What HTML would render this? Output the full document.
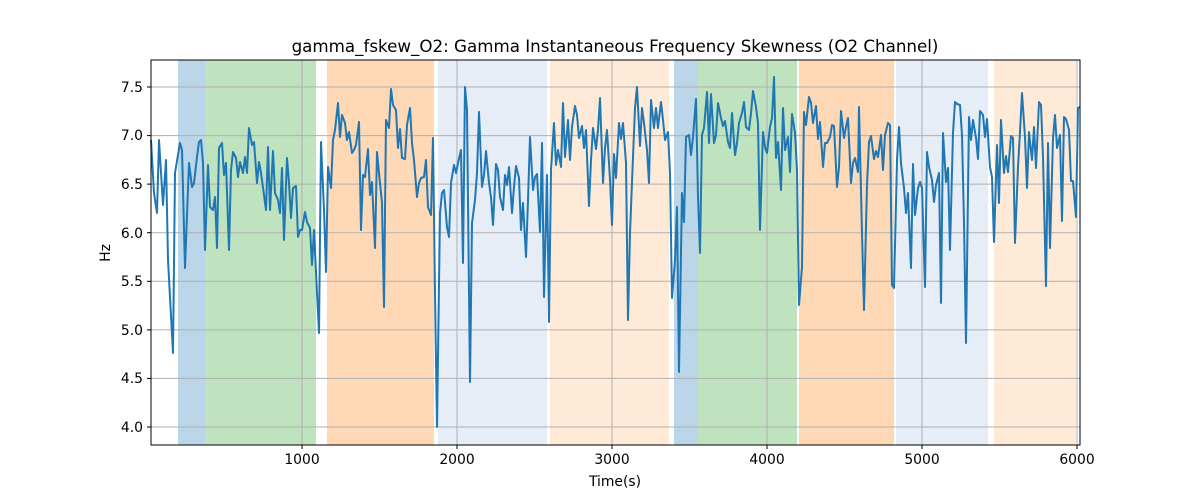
<!DOCTYPE html>
<html><head><meta charset="utf-8"><style>body{margin:0;background:#fff}svg{display:block}text{font-family:"DejaVu Sans","Liberation Sans",sans-serif;fill:#000}</style></head><body>
<svg width="1200" height="500" xmlns="http://www.w3.org/2000/svg">
<rect width="1200" height="500" fill="#fff"/>
<g stroke="none">
<rect x="178" y="60" width="27" height="385" fill="rgba(31,119,180,0.3)"/>
<rect x="205" y="60" width="111" height="385" fill="rgba(44,160,44,0.3)"/>
<rect x="327" y="60" width="107" height="385" fill="rgba(255,127,14,0.3)"/>
<rect x="438" y="60" width="109" height="385" fill="rgba(31,90,180,0.11)"/>
<rect x="550" y="60" width="119" height="385" fill="rgba(255,127,14,0.16)"/>
<rect x="674" y="60" width="24" height="385" fill="rgba(31,119,180,0.3)"/>
<rect x="698" y="60" width="99" height="385" fill="rgba(44,160,44,0.3)"/>
<rect x="799" y="60" width="95" height="385" fill="rgba(255,127,14,0.3)"/>
<rect x="896" y="60" width="92" height="385" fill="rgba(31,90,180,0.11)"/>
<rect x="994" y="60" width="82" height="385" fill="rgba(255,127,14,0.16)"/>
</g>
<g stroke="#b0b0b0" stroke-width="1">
<line x1="302" y1="60" x2="302" y2="445"/><line x1="457" y1="60" x2="457" y2="445"/><line x1="612" y1="60" x2="612" y2="445"/><line x1="767" y1="60" x2="767" y2="445"/><line x1="922" y1="60" x2="922" y2="445"/><line x1="1077" y1="60" x2="1077" y2="445"/>
<line x1="151" y1="427" x2="1080" y2="427"/><line x1="151" y1="378.4" x2="1080" y2="378.4"/><line x1="151" y1="329.9" x2="1080" y2="329.9"/><line x1="151" y1="281.3" x2="1080" y2="281.3"/><line x1="151" y1="232.7" x2="1080" y2="232.7"/><line x1="151" y1="184.1" x2="1080" y2="184.1"/><line x1="151" y1="135.6" x2="1080" y2="135.6"/><line x1="151" y1="87" x2="1080" y2="87"/>
</g>
<polyline fill="none" stroke="#1f77b4" stroke-width="2" stroke-linejoin="round" points="151,140 154,193 157,213 159,140 163,205 166,160 168,260 173,353 175,173 180,143 182,150 185,268 189,163 192,187 194,183 197,157 199,142 201,140 203,163 205,250 208,165 210,207 213,210 215,197 217,248 219,148 222,143 224,175 226,163 229,250 231,170 233,152 236,158 238,177 240,162 243,173 245,157 247,173 249,128 252,145 254,142 257,183 259,162 261,173 264,195 266,210 268,147 270,210 273,151 275,193 278,200 280,213 282,168 284,240 287,158 289,183 291,218 293,188 296,186 298,237 300,230 302,230 305,212 307,222 310,228 312,265 314,230 317,293 319,333 321,142 324,210 326,272 328,167 331,188 333,140 335,130 338,103 340,137 342,115 345,123 347,140 349,132 352,153 354,150 356,145 359,122 361,230 363,175 365,177 368,149 370,195 372,182 375,248 377,152 379,173 382,203 384,307 386,120 389,128 391,89 393,105 396,110 398,148 400,129 402,158 405,159 407,125 410,108 412,143 414,160 417,197 419,183 421,178 424,177 426,160 428,207 431,215 433,138 435,293 437,427 440,213 442,193 444,190 447,227 449,237 451,183 454,165 456,173 458,163 461,150 463,263 465,87 467,110 470,382 472,223 475,200 477,173 479,112 482,187 484,175 486,151 489,183 491,197 493,225 496,164 498,170 500,197 503,210 505,175 507,185 509,167 512,213 514,187 516,166 519,178 521,230 523,203 526,257 528,200 530,137 533,190 535,177 537,174 540,232 542,143 544,297 547,175 549,322 551,170 554,123 556,165 558,150 561,167 563,103 565,157 568,120 570,160 572,127 575,106 577,115 579,138 582,126 584,148 586,130 589,206 591,160 593,128 596,149 598,130 600,98 603,183 605,148 607,130 610,180 612,225 614,154 616,178 619,123 621,139 623,123 626,163 628,320 630,233 633,157 635,108 637,87 640,146 642,108 644,123 647,150 649,183 651,100 654,128 656,108 658,128 661,102 663,120 665,140 668,132 670,173 672,298 675,260 677,207 679,372 682,193 684,222 686,137 689,135 691,155 693,137 696,99 698,197 700,253 702,135 704,128 707,92 709,143 711,94 714,143 716,135 718,103 721,118 723,126 725,121 728,142 730,148 732,113 735,155 737,143 739,123 742,113 744,102 746,127 749,130 751,113 753,91 756,107 758,123 760,230 763,132 765,147 767,153 770,127 772,118 774,77 776,158 778,142 781,190 783,108 785,150 788,137 790,172 792,114 795,133 797,170 799,305 802,267 804,112 806,125 809,97 811,103 813,123 816,106 818,139 820,122 823,167 825,143 827,143 830,137 832,125 834,126 837,187 839,167 841,111 844,138 846,127 848,118 851,183 853,163 855,158 858,172 859,107 862,233 864,310 867,185 869,142 871,136 874,159 876,151 878,157 881,135 883,170 885,135 888,123 890,125 892,285 894,288 897,160 899,127 901,163 904,188 906,213 908,193 911,268 913,164 915,215 918,188 920,182 922,188 925,287 927,152 929,167 932,180 934,202 936,185 939,173 941,303 943,133 946,182 948,168 950,250 953,133 955,102 957,104 960,105 962,135 964,223 966,343 969,117 971,140 973,120 976,138 978,159 980,111 983,115 985,137 987,119 990,167 992,177 994,242 997,145 999,203 1001,120 1004,173 1006,156 1008,172 1011,136 1013,138 1015,243 1018,167 1020,132 1022,93 1025,137 1027,188 1029,132 1032,160 1034,127 1036,168 1039,102 1041,105 1043,157 1046,286 1048,143 1050,248 1053,138 1055,115 1057,148 1060,135 1062,221 1064,117 1066,119 1069,130 1071,181 1073,181 1076,217 1078,108 1080,107"/>
<rect x="151" y="60" width="929" height="385" fill="none" stroke="#000" stroke-width="1"/>
<g stroke="#000" stroke-width="1">
<line x1="302" y1="445" x2="302" y2="449"/><line x1="457" y1="445" x2="457" y2="449"/><line x1="612" y1="445" x2="612" y2="449"/><line x1="767" y1="445" x2="767" y2="449"/><line x1="922" y1="445" x2="922" y2="449"/><line x1="1077" y1="445" x2="1077" y2="449"/>
<line x1="147" y1="427" x2="151" y2="427"/><line x1="147" y1="378.4" x2="151" y2="378.4"/><line x1="147" y1="329.9" x2="151" y2="329.9"/><line x1="147" y1="281.3" x2="151" y2="281.3"/><line x1="147" y1="232.7" x2="151" y2="232.7"/><line x1="147" y1="184.1" x2="151" y2="184.1"/><line x1="147" y1="135.6" x2="151" y2="135.6"/><line x1="147" y1="87" x2="151" y2="87"/>
</g>
<g font-size="13.9" text-anchor="middle">
<text x="302" y="464">1000</text><text x="457" y="464">2000</text><text x="612" y="464">3000</text><text x="767" y="464">4000</text><text x="922" y="464">5000</text><text x="1077" y="464">6000</text>
</g>
<g font-size="13.9" text-anchor="end">
<text x="143" y="432">4.0</text><text x="143" y="383">4.5</text><text x="143" y="335">5.0</text><text x="143" y="286">5.5</text><text x="143" y="238">6.0</text><text x="143" y="189">6.5</text><text x="143" y="140">7.0</text><text x="143" y="92">7.5</text>
</g>
<text x="615" y="486" font-size="13.9" text-anchor="middle">Time(s)</text>
<text x="110" y="253" font-size="13.9" text-anchor="middle" transform="rotate(-90 110 253)">Hz</text>
<text x="615" y="52" font-size="16.7" text-anchor="middle">gamma_fskew_O2: Gamma Instantaneous Frequency Skewness (O2 Channel)</text>
</svg>
</body></html>
